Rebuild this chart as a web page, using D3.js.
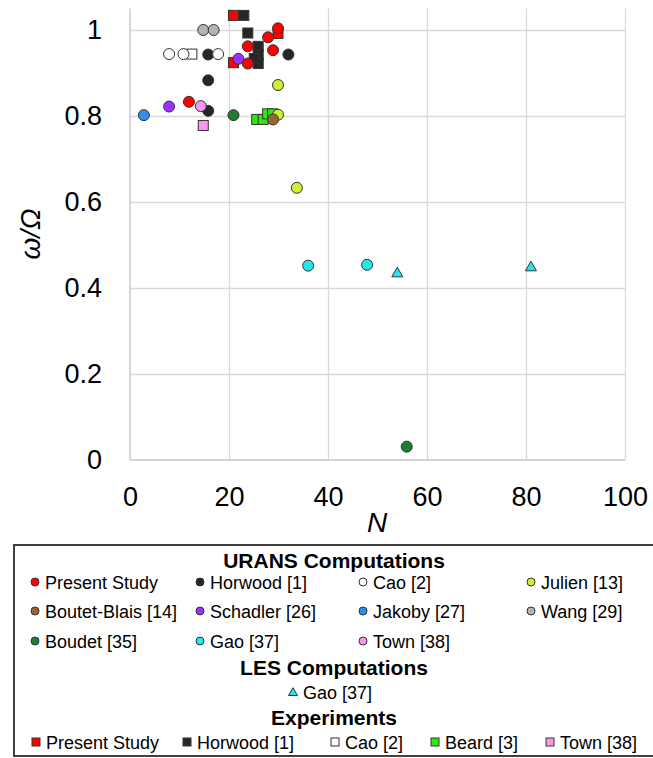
<!DOCTYPE html>
<html><head><meta charset="utf-8">
<script src="https://cdn.jsdelivr.net/npm/d3@7"></script>
<style>body{margin:0;background:#fff}svg{display:block}</style>
</head><body><svg id="c" width="653" height="758"></svg>
<script>
// ---------- data ----------
const xTicks=[0,20,40,60,80,100];
const xTickLabels=["0","20","40","60","80","100"];
const yTicks=[0,0.2,0.4,0.6,0.8,1];
const yTickLabels=["0","0.2","0.4","0.6","0.8","1"];

// URANS computations  [N, omega/Omega]
const presentStudyCFD=[[29.9,1.004],[27.9,0.983],[23.8,0.962],[28.9,0.953],[23.8,0.922],[11.9,0.833]];
const horwoodCFD=[[15.8,0.943],[32.0,0.943],[15.8,0.883],[15.8,0.812]];
const caoCFD=[[7.9,0.944],[10.8,0.944],[17.8,0.944]];
const julienCFD=[[29.9,0.872],[29.9,0.803],[33.7,0.633]];
const boutetBlaisCFD=[[28.9,0.792]];
const schadlerCFD=[[7.9,0.822],[21.9,0.933]];
const jakobyCFD=[[2.8,0.802]];
const wangCFD=[[14.8,1.0],[16.9,1.0]];
const boudetCFD=[[20.9,0.802],[55.9,0.031]];
const gaoCFD=[[36.0,0.452],[47.9,0.454]];
const townCFD=[[14.3,0.823]];
// LES computations
const gaoLES=[[54.0,0.436],[81.0,0.450]];
// Experiments
const presentStudyExp=[[20.9,1.034],[29.9,0.992],[20.9,0.924]];
const horwoodExp=[[23.0,1.034],[23.8,0.993],[25.9,0.962],[25.9,0.942],[25.9,0.922],[25.1,0.934]];
const caoExp=[[12.5,0.944]];
const beardExp=[[25.6,0.792],[26.9,0.792],[27.8,0.805],[28.8,0.805]];
const townExp=[[14.8,0.778]];

const uransLabels=["Present Study","Horwood [1]","Cao [2]","Julien [13]","Boutet-Blais [14]","Schadler [26]","Jakoby [27]","Wang [29]","Boudet [35]","Gao [37]","Town [38]"];
const lesLabels=["Gao [37]"];
const expLabels=["Present Study","Horwood [1]","Cao [2]","Beard [3]","Town [38]"];

// ---------- styles ----------
const FONT="Liberation Sans";
const C={red:"#ff0000",black:"#262626",white:"#ffffff",julien:"#ccf032",brown:"#9a6434",purple:"#9b30ff",blue:"#2f8ef0",gray:"#b4b4b4",dgreen:"#1e7d32",cyan:"#22e8ee",pink:"#f797f0",green:"#2ee810"};
const uransSeries=[
 {d:presentStudyCFD,c:C.red},{d:horwoodCFD,c:C.black},{d:caoCFD,c:C.white},{d:julienCFD,c:C.julien},
 {d:boutetBlaisCFD,c:C.brown},{d:schadlerCFD,c:C.purple},{d:jakobyCFD,c:C.blue},{d:wangCFD,c:C.gray},
 {d:boudetCFD,c:C.dgreen},{d:gaoCFD,c:C.cyan},{d:townCFD,c:C.pink}
].map((s,i)=>({...s,shape:"circle",label:uransLabels[i]}));
const lesSeries=[{d:gaoLES,c:C.cyan,shape:"triangle",label:lesLabels[0]}];
const expSeries=[
 {d:presentStudyExp,c:C.red},{d:horwoodExp,c:C.black},{d:caoExp,c:C.white},{d:beardExp,c:C.green},{d:townExp,c:C.pink}
].map((s,i)=>({...s,shape:"square",label:expLabels[i]}));

// ---------- chart ----------
const svg=d3.select("#c");
const x=d3.scaleLinear().domain([0,100]).range([130,625]);
const y=d3.scaleLinear().domain([0,1.05]).range([460,8.5]);

const g=svg.append("g");
g.append("g").attr("transform","translate(0,460)")
 .call(d3.axisBottom(x).tickValues(xTicks.slice(1)).tickSize(-(460-8.5)).tickFormat(""))
 .call(a=>{a.select(".domain").remove();a.selectAll("line").attr("stroke","#d9d9d9").attr("stroke-width",1.3);});
g.append("g").attr("transform","translate(130,0)")
 .call(d3.axisLeft(y).tickValues(yTicks.slice(1)).tickSize(-(625-130)).tickFormat(""))
 .call(a=>{a.select(".domain").remove();a.selectAll("line").attr("stroke","#d9d9d9").attr("stroke-width",1.3);});
svg.append("line").attr("x1",x(0)).attr("x2",x(0)).attr("y1",y(1.05)).attr("y2",y(0)).attr("stroke","#c4c4c4").attr("stroke-width",1.3);
svg.append("line").attr("x1",x(0)).attr("x2",x(100)).attr("y1",y(0)).attr("y2",y(0)).attr("stroke","#c4c4c4").attr("stroke-width",1.3);

svg.append("g").attr("transform","translate(130,0)")
 .call(d3.axisLeft(y).tickValues(yTicks).tickSize(0).tickPadding(28).tickFormat((d,i)=>yTickLabels[i]))
 .call(a=>{a.attr("font-family",FONT);a.select(".domain").remove();a.selectAll("text").attr("font-size",27).attr("fill","#000");});
svg.append("g").attr("transform","translate(0,460)")
 .call(d3.axisBottom(x).tickValues(xTicks).tickSize(0).tickPadding(27).tickFormat((d,i)=>xTickLabels[i]))
 .call(a=>{a.attr("font-family",FONT);a.select(".domain").remove();a.selectAll("text").attr("font-size",27).attr("fill","#000");});

svg.append("text").attr("x",377).attr("y",532).attr("text-anchor","middle").attr("font-family",FONT).attr("font-size",28).attr("font-style","italic").text("N");
svg.append("text").attr("transform","translate(40,234) rotate(-90)").attr("text-anchor","middle").attr("font-family",FONT).attr("font-size",28).attr("font-style","italic").text("ω/Ω");

function marker(sel,shape,color,size){
  const stroke="#333";
  if(shape==="circle"){
    sel.append("circle").attr("r",size/2).attr("fill",color).attr("stroke",stroke).attr("stroke-width",1);
  }else if(shape==="square"){
    sel.append("rect").attr("x",-size/2).attr("y",-size/2).attr("width",size).attr("height",size).attr("fill",color).attr("stroke",stroke).attr("stroke-width",1);
  }else{
    const h=size*0.87;
    sel.append("path").attr("d",`M0,${-h*0.55}L${size/2},${h*0.45}L${-size/2},${h*0.45}Z`).attr("fill",color).attr("stroke",stroke).attr("stroke-width",1);
  }
}
const drawOrder=[expSeries[1],expSeries[2],expSeries[3],expSeries[4],expSeries[0],
 ...uransSeries.slice(1),lesSeries[0],uransSeries[0]];
const pts=svg.append("g");
drawOrder.forEach(s=>{
  s.d.forEach(p=>{
    const m=pts.append("g").attr("transform",`translate(${x(p[0])},${y(p[1])})`);
    marker(m,s.shape,s.c,s.shape==="circle"?11:(s.shape==="square"?10:11));
  });
});

const L=svg.append("g").attr("font-family",FONT);
L.append("rect").attr("x",14).attr("y",545).attr("width",642).attr("height",211).attr("fill","#fff").attr("stroke","#404040").attr("stroke-width",2);
const cx=334;
function title(t,yb){L.append("text").attr("x",cx).attr("y",yb).attr("text-anchor","middle").attr("font-size",21).attr("font-weight","bold").text(t);}
function entry(s,mx,yc){
  const m=L.append("g").attr("transform",`translate(${mx},${yc})`);
  marker(m,s.shape,s.c,s.shape==="circle"?8:(s.shape==="square"?8:9));
  return L.append("text").attr("x",mx+10).attr("y",yc+6.5).attr("font-size",18).text(s.label);
}
title("URANS Computations",568);
const colX=[35,200,363,531];
const rowY=[582,611,641];
uransSeries.forEach((s,i)=>entry(s,colX[i%4],rowY[Math.floor(i/4)]));
title("LES Computations",675);
entry(lesSeries[0],293,692);
title("Experiments",725);
const expX=[36,187,335,435,550];
expSeries.forEach((s,i)=>entry(s,expX[i],742));
</script></body></html>
